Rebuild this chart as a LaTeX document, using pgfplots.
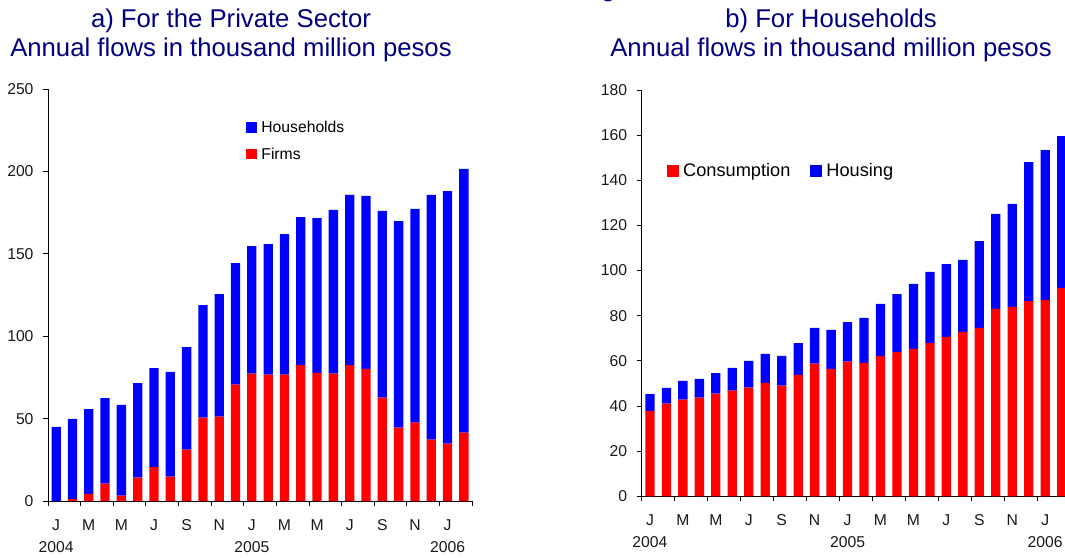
\documentclass[border=0pt]{standalone}
\usepackage{fontspec}
\setmainfont{Liberation Sans}
\usepackage{pgfplots}
\pgfplotsset{compat=1.18}
\definecolor{navy}{RGB}{0,0,128}
\definecolor{barred}{RGB}{255,0,0}
\definecolor{barblue}{RGB}{0,0,255}
\definecolor{ticktext}{RGB}{25,25,25}
\newcommand{\tickfont}{\fontsize{15.7}{21.7}\selectfont}
\newcommand{\legfont}{\fontsize{18.2}{21}\selectfont}
\newcommand{\titlefont}{\fontsize{25.7}{30}\selectfont}
\pgfplotsset{
  mybars/.style={
    scale only axis,
    anchor=south west,
    ybar stacked,
    bar width=9.3pt,
    axis lines*=left,
    axis line style={black,line width=0.8pt},
    tick align=outside,
    tick style={black,line width=0.8pt},
    major tick length=5pt,
    xmin=-0.5, xmax=25.5,
    xtick={-0.5,1.5,...,25.5},
    xticklabels={{J\\2004},M,M,J,S,N,{J\\2005},M,M,J,S,N,{J\\2006},{}},
    xticklabel style={align=center,font=\tickfont,text=ticktext,yshift=-10pt},
    yticklabel style={font=\tickfont,text=ticktext,xshift=-6pt},
    /pgf/number format/assume math mode=true,
    clip=false,
  },
}
\pgfplotstableread{
i firms households
0 0.0 45.0
1 1.2 48.6
2 4.4 51.4
3 10.5 52.0
4 3.2 55.1
5 14.2 57.4
6 20.6 60.1
7 14.8 63.5
8 31.1 62.3
9 50.6 68.3
10 51.2 74.4
11 70.6 73.8
12 77.3 77.4
13 76.7 79.2
14 76.7 85.3
15 82.5 89.8
16 77.7 94.0
17 77.3 99.3
18 82.5 103.2
19 80.1 105.0
20 62.7 113.3
21 44.5 125.4
22 47.5 129.7
23 37.2 148.5
24 34.8 153.3
25 41.5 160.0
}\privtable
\pgfplotstableread{
i consumption housing
0 37.8 7.5
1 41.1 6.9
2 42.8 8.3
3 43.7 8.3
4 45.5 9.1
5 46.8 10.1
6 48.1 11.9
7 50.2 12.9
8 49.0 13.2
9 53.8 14.1
10 58.8 15.8
11 56.4 17.3
12 59.7 17.5
13 59.1 19.9
14 62.2 23.0
15 63.9 25.7
16 65.3 28.8
17 67.9 31.5
18 70.6 32.3
19 72.8 31.9
20 74.6 38.5
21 83.0 42.1
22 83.9 45.6
23 86.5 61.6
24 87.0 66.4
25 92.3 67.3
}\housetable
\begin{document}
\begin{tikzpicture}
% titles
\node[anchor=base,inner sep=0,text=navy,font=\titlefont] at (231pt,529pt) {a) For the Private Sector};
\node[anchor=base,inner sep=0,text=navy,font=\titlefont] at (231pt,500pt) {Annual flows in thousand million pesos};
\node[anchor=base,inner sep=0,text=navy,font=\titlefont] at (831pt,529pt) {b) For Households};
\node[anchor=base,inner sep=0,text=navy,font=\titlefont] at (831pt,500pt) {Annual flows in thousand million pesos};
\node[anchor=base west,inner sep=0,text=navy,font=\titlefont] at (601pt,560pt) {g};
% left panel
\begin{axis}[mybars,
  at={(48pt,56pt)}, width=424pt, height=412pt,
  ymin=0, ymax=250, ytick={0,50,...,250},
  xticklabel style={xshift=8.15pt},
  reverse legend,
  legend image code/.code={\path[#1] (0pt,-5.3pt) rectangle (10.7pt,5.3pt);},
  legend style={at={(0.467,0.927)},anchor=north west,draw=none,fill=none,
    inner sep=0pt,font=\tickfont,row sep=9.6pt,
    nodes={inner sep=2pt},
    /tikz/every odd column/.append style={column sep=2.5pt}},
  legend cell align=left,
]
\addplot[fill=barred,draw=none] table[x=i,y=firms] {\privtable};
\addlegendentry{Firms}
\addplot[fill=barblue,draw=none] table[x=i,y=households] {\privtable};
\addlegendentry{Households}
\end{axis}
% right panel
\begin{axis}[mybars,
  at={(641.7pt,60.7pt)}, width=428.2pt, height=406.3pt,
  ymin=0, ymax=180, ytick={0,20,...,180},
  xticklabel style={xshift=8.23pt},
  legend columns=2,
  legend image code/.code={\path[#1] (0pt,-6pt) rectangle (12pt,6pt);},
  legend style={at={(0.059,0.825)},anchor=north west,draw=none,fill=none,
    inner sep=0pt,font=\legfont,
    nodes={inner sep=2pt},
    /tikz/every odd column/.append style={column sep=2pt},
    /tikz/every even column/.append style={column sep=18pt}},
  legend cell align=left,
]
\addplot[fill=barred,draw=none] table[x=i,y=consumption] {\housetable};
\addlegendentry{Consumption}
\addplot[fill=barblue,draw=none] table[x=i,y=housing] {\housetable};
\addlegendentry{Housing}
\end{axis}
\pgfresetboundingbox
\path[use as bounding box] (0pt,0pt) rectangle (1065pt,557pt);
\end{tikzpicture}
\end{document}
